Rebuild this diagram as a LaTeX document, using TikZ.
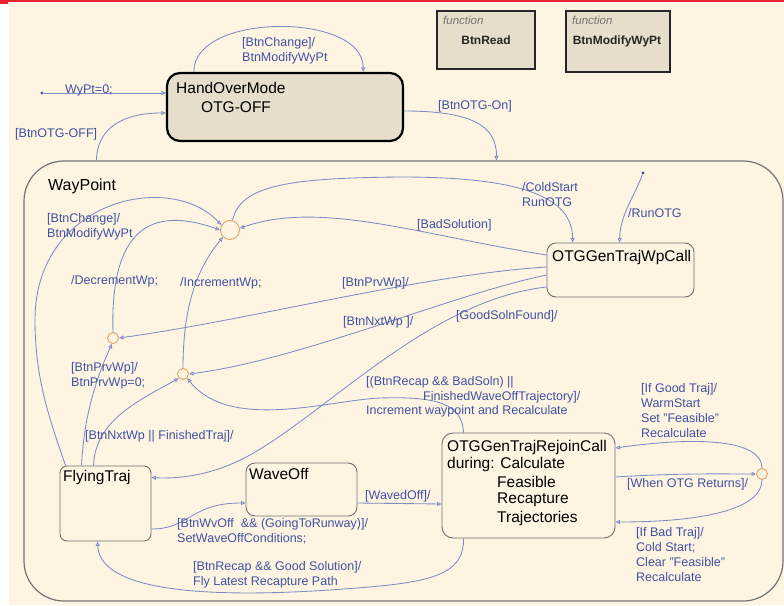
\documentclass[tikz,border=0pt]{standalone}
\usepackage{fontspec}
\setmainfont{Liberation Sans}
\usetikzlibrary{arrows.meta,calc}
\definecolor{cream}{HTML}{FDF5E2}
\definecolor{tanfill}{HTML}{E6DDCA}
\definecolor{lblc}{HTML}{4250A2}
\definecolor{linec}{HTML}{7F8BC6}
\definecolor{junc}{HTML}{E3A062}
\definecolor{stbd}{HTML}{707070}
\definecolor{topred}{HTML}{E8232E}
\begin{document}
\begin{tikzpicture}[x=1pt,y=-1pt,
 lbl/.style={text=lblc,font=\fontsize{12.5}{15}\selectfont,inner sep=0pt,anchor=west,align=left},
 ttl/.style={text=black,font=\fontsize{15.5}{18}\selectfont,inner sep=0pt,anchor=west,align=left},
 tr/.style={draw=linec,line width=0.85pt,-{Triangle[open,length=4.5pt,width=4pt]}},
 st/.style={draw=stbd,line width=0.9pt,rounded corners=7pt,inner sep=0pt},
 junction/.style={circle,draw=junc,line width=0.9pt,inner sep=0pt},
 fbox/.style={draw=black!85,fill=tanfill,line width=2pt,inner sep=0pt},
 idot/.style={circle,fill=lblc,inner sep=0pt,minimum size=3.2pt}]
\useasboundingbox (0,0) rectangle (784,605);
\fill[white] (0,0) rectangle (784,605);
\fill[cream] (9,3) rectangle (784,605);
\fill[topred] (0,0) rectangle (784,1.5);
\fill[topred] (0,0) rectangle (8,4);

% top-level states
\node[draw=black,fill=tanfill,line width=2.2pt,rounded corners=13pt,minimum width=236pt,minimum height=68pt,inner sep=0pt] (ho) at (285,107) {};
\node[ttl] (hot1) at (176,88) {HandOverMode};
\node[ttl] (hot2) at (201,107) {OTG-OFF};

\node[fbox,minimum width=98pt,minimum height=58pt] (fr) at (486,40) {};
\node[font=\itshape\fontsize{11.5}{13}\selectfont,text=black!55,inner sep=0pt,anchor=west] (fr1) at (443,20) {function};
\node[font=\bfseries\fontsize{12}{15}\selectfont,text=black!85,inner sep=0pt] (fr2) at (486,40) {BtnRead};
\node[fbox,minimum width=104pt,minimum height=61pt] (fm) at (618,41) {};
\node[font=\itshape\fontsize{11.5}{13}\selectfont,text=black!55,inner sep=0pt,anchor=west] (fm1) at (572,20) {function};
\node[font=\bfseries\fontsize{12}{15}\selectfont,text=black!85,inner sep=0pt] (fm2) at (617,41) {BtnModifyWyPt};

\node[draw=black!55,line width=1.2pt,rounded corners=40pt,minimum width=759pt,minimum height=440pt,inner sep=0pt] (way) at (403.5,381) {};
\node[ttl,font=\fontsize{16}{18}\selectfont] (wayt) at (48,186) {WayPoint};

% inner states
\node[st,rounded corners=9pt,minimum width=147pt,minimum height=54pt] (wp) at (620.5,270) {};
\node[ttl] (wpt) at (552,257) {OTGGenTrajWpCall};
\node[st,minimum width=91pt,minimum height=75pt] (fly) at (105.5,503.5) {};
\node[ttl] (flyt) at (63,477) {FlyingTraj};
\node[st,rounded corners=9pt,minimum width=111pt,minimum height=53pt] (wave) at (301.5,489.5) {};
\node[ttl] (wavet) at (249,474) {WaveOff};
\node[st,rounded corners=11pt,minimum width=173pt,minimum height=105pt] (rejoin) at (528.5,485.5) {};
\node[ttl] (rj1) at (447,447) {OTGGenTrajRejoinCall};
\node[ttl] (rj2) at (447,464.5) {during: Calculate};
\node[ttl] (rj3) at (497,482) {Feasible};
\node[ttl] (rj4) at (497,500) {Recapture};
\node[ttl] (rj5) at (497,518) {Trajectories};

% junctions and default dots
\node[junction,minimum size=19pt] (j1) at (230,230) {};
\node[junction,minimum size=11pt] (j2) at (113,338) {};
\node[junction,minimum size=11pt] (j3) at (183,374) {};
\node[junction,minimum size=11pt] (j4) at (762,474) {};
\node[idot] (d1) at (42,93) {};
\node[idot] (d2) at (643,173) {};

% transitions (top level)
\draw[tr] (d1) -- ([yshift=14pt]ho.west);
\draw[tr] ([xshift=28pt]ho.north west) .. controls (193,12) and (364,12) .. ([xshift=-41pt]ho.north east);
\draw[tr] ([xshift=73pt]way.north west) .. controls (97,130) and (120,113) .. ([yshift=-6pt]ho.west);
\draw[tr] ([yshift=-4pt]ho.east) .. controls (470,111) and (497,125) .. ([xshift=473pt]way.north west);

% transitions inside WayPoint
\draw[tr] (d2) .. controls (635,195) and (620,215) .. ([xshift=73pt]wp.north west);
\draw[tr] (j1.75) .. controls (240,185) and (290,178) .. (400,177) .. controls (500,177) and (573,190) .. ([xshift=26pt]wp.north west);
\draw[tr] ([yshift=15pt]wp.west) .. controls (420,235) and (320,200) .. (j1.10);
\draw[tr] ([xshift=6pt]fly.north west) .. controls (50,420) and (35,380) .. (35,320) .. controls (35,200) and (170,170) .. (j1.150);
\draw[tr] (j2.north) .. controls (110,230) and (150,205) .. (j1.west);
\draw[tr] (j3.north) .. controls (183,300) and (200,265) .. (j1.225);
\draw[tr] ([yshift=3pt]wp.west) .. controls (420,275) and (250,320) .. (j2.east);
\draw[tr] ([yshift=-5pt]wp.west) .. controls (450,295) and (300,360) .. (j3.east);
\draw[tr] ([yshift=-17pt]wp.west) .. controls (430,300) and (330,410) .. (250,455) .. controls (214,475) and (180,479) .. ([yshift=-12pt]fly.north east);
\draw[tr] ([xshift=34pt]fly.north west) .. controls (95,420) and (140,400) .. (j3.225);
\draw[tr] ([xshift=22pt]fly.north west) .. controls (84,410) and (100,370) .. (j2.260);
\draw[tr] ([xshift=22pt]rejoin.north west) .. controls (462,405) and (440,396) .. (380,398) .. controls (330,400) and (230,432) .. (j3.315);
\draw[tr] ([yshift=-25.5pt]fly.east) .. controls (190,529) and (190,503) .. ([yshift=-13.5pt]wave.west);
\draw[tr] ([yshift=-13.5pt]wave.east) -- ([yshift=-18.5pt]rejoin.west);
\draw[tr] ([xshift=22pt]rejoin.south west) .. controls (464,570) and (440,580) .. (380,586) .. controls (250,598) and (100,600) .. ([xshift=38pt]fly.south west);
\draw[tr] ([yshift=8.5pt]rejoin.east) .. controls (680,473) and (720,474) .. (j4.west);
\draw[tr] (j4.north) .. controls (762,440) and (700,436) .. ([yshift=37.5pt]rejoin.east);
\draw[tr] (j4.south) .. controls (762,510) and (700,522) .. ([yshift=-36.5pt]rejoin.east);

% labels
\node[lbl] (l1) at (65,90) {WyPt=0;};
\node[lbl] (l2) at (242,50.5) {[BtnChange]/\\BtnModifyWyPt};
\node[lbl] (l3) at (15,134) {[BtnOTG-OFF]};
\node[lbl] (l4) at (438,106) {[BtnOTG-On]};
\node[lbl] (l5) at (522,194.5) {/ColdStart\\RunOTG};
\node[lbl] (l6) at (628,213) {/RunOTG};
\node[lbl] (l7) at (417,225) {[BadSolution]};
\node[lbl] (l8) at (47,227) {[BtnChange]/\\BtnModifyWyPt};
\node[lbl] (l9) at (71,281) {/DecrementWp;};
\node[lbl] (l10) at (180,283) {/IncrementWp;};
\node[lbl] (l11) at (342,283) {[BtnPrvWp]/};
\node[lbl] (l12) at (343,322) {[BtnNxtWp ]/};
\node[lbl] (l13) at (456,316) {[GoodSolnFound]/};
\node[lbl] (l14) at (71,375.5) {[BtnPrvWp]/\\BtnPrvWp=0;};
\node[lbl] (l15) at (85,436) {[BtnNxtWp || FinishedTraj]/};
\node[lbl,font=\fontsize{12.5}{14.5}\selectfont] (l16) at (366,397) {[(BtnRecap \&\& BadSoln) ||\\\hspace*{57pt}FinishedWaveOffTrajectory]/\\Increment waypoint and Recalculate};
\node[lbl] (l17) at (177,531) {[BtnWvOff\ \ \&\& (GoingToRunway)]/\\SetWaveOffConditions;};
\node[lbl] (l18) at (365,496) {[WavedOff]/};
\node[lbl] (l19) at (193,575) {[BtnRecap \&\& Good Solution]/\\Fly Latest Recapture Path};
\node[lbl] (l20) at (641,410.5) {[If Good Traj]/\\WarmStart\\Set "Feasible"\\Recalculate};
\node[lbl] (l21) at (627,484) {[When OTG Returns]/};
\node[lbl] (l22) at (636,555) {[If Bad Traj]/\\Cold Start;\\Clear "Feasible"\\Recalculate};
\end{tikzpicture}
\end{document}
